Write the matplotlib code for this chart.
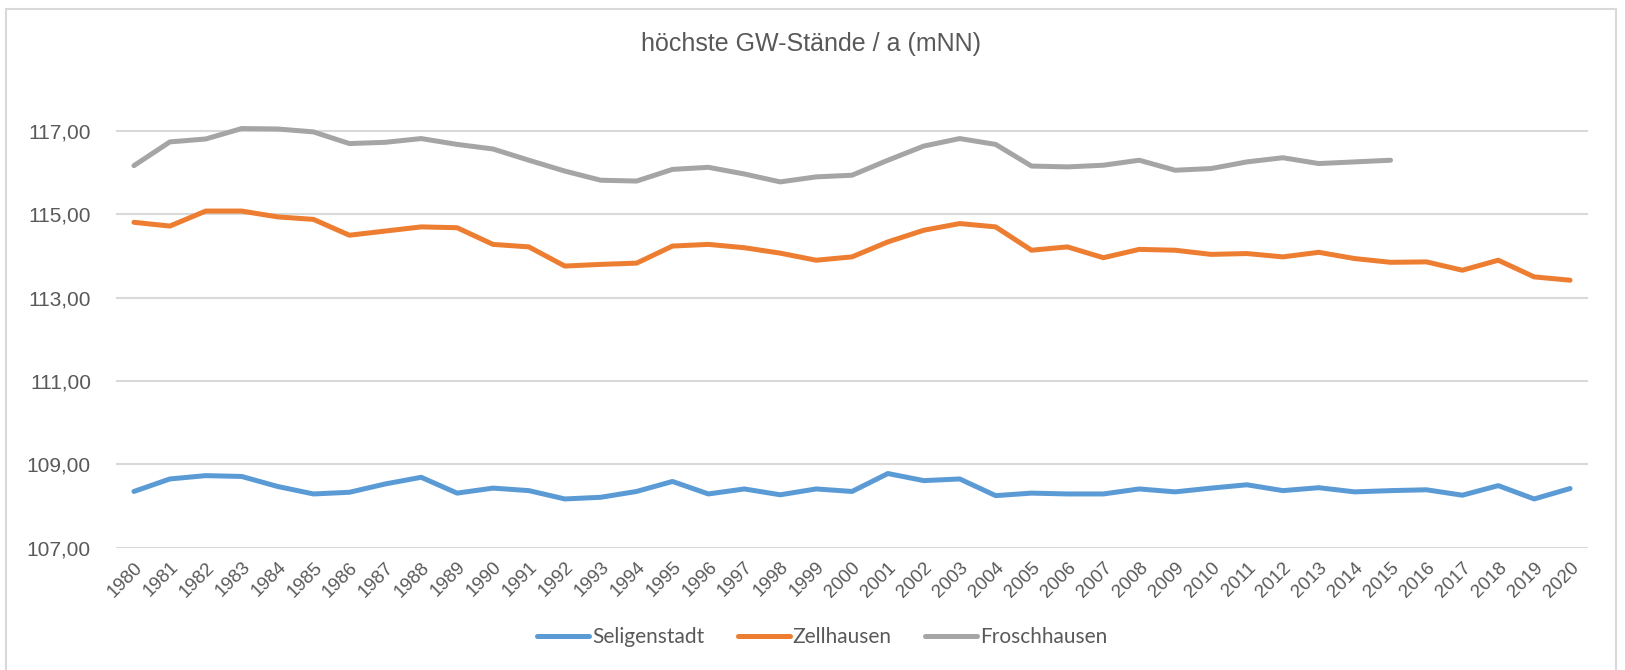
import matplotlib.pyplot as plt
from matplotlib.patches import Rectangle

# yearly maximum groundwater levels (mNN)
years = list(range(1980, 2021))

seligenstadt = [108.35, 108.65, 108.73, 108.71, 108.47, 108.29, 108.33, 108.53, 108.69, 108.31,
                108.43, 108.37, 108.17, 108.21, 108.35, 108.59, 108.29, 108.41, 108.27, 108.41,
                108.35, 108.78, 108.61, 108.65, 108.25, 108.31, 108.29, 108.29, 108.41, 108.34,
                108.43, 108.51, 108.37, 108.44, 108.34, 108.37, 108.39, 108.26, 108.49, 108.17,
                108.42]

zellhausen = [114.81, 114.72, 115.08, 115.08, 114.94, 114.88, 114.50, 114.60, 114.70, 114.68,
              114.28, 114.22, 113.76, 113.80, 113.83, 114.24, 114.28, 114.20, 114.07, 113.90,
              113.98, 114.34, 114.62, 114.78, 114.70, 114.14, 114.22, 113.96, 114.16, 114.14,
              114.04, 114.06, 113.98, 114.09, 113.94, 113.85, 113.86, 113.66, 113.90, 113.50,
              113.42]

# Froschhausen has data until 2015 only
froschhausen_years = list(range(1980, 2016))
froschhausen = [116.17, 116.74, 116.81, 117.06, 117.05, 116.98, 116.70, 116.73, 116.82, 116.68,
                116.57, 116.30, 116.04, 115.82, 115.80, 116.08, 116.13, 115.97, 115.78, 115.90,
                115.94, 116.30, 116.64, 116.82, 116.68, 116.16, 116.14, 116.18, 116.30, 116.06,
                116.10, 116.26, 116.36, 116.22, 116.26, 116.30]

y_ticks = [107, 109, 111, 113, 115, 117]

txt = '#595959'
W, H = 1625, 670

fig = plt.figure(figsize=(W / 100, H / 100), dpi=100)
ax = fig.add_axes([116 / W, 1 - 547.7 / H, 1472 / W, (547.7 - 89.4) / H])

ax.plot(years, seligenstadt, color='#5B9BD5', lw=3.6, solid_capstyle='round', label='Seligenstadt')
ax.plot(years, zellhausen, color='#ED7D31', lw=3.6, solid_capstyle='round', label='Zellhausen')
ax.plot(froschhausen_years, froschhausen, color='#A5A5A5', lw=3.6, solid_capstyle='round',
        label='Froschhausen')

ax.set_xlim(1979.5, 2020.5)
ax.set_ylim(107, 118)
ax.set_yticks(y_ticks)
ax.set_yticklabels([f'{v:.2f}'.replace('.', ',') for v in y_ticks],
                   fontsize=15, color=txt, family='Liberation Sans')
ax.set_xticks(years)
ax.set_xticklabels([str(y) for y in years], rotation=45, ha='right', va='top',
                   rotation_mode='anchor', fontsize=13.5, color=txt, family='Liberation Sans')
ax.tick_params(axis='y', length=0, pad=18)
ax.tick_params(axis='x', length=0, pad=8)
ax.grid(axis='y', color='#D9D9D9', lw=1.5)
ax.set_axisbelow(True)
for s in ax.spines.values():
    s.set_visible(False)

fig.text(811 / W, 1 - 44 / H, 'höchste GW-Stände / a (mNN)', ha='center', va='center',
         fontsize=18, color=txt, family='Liberation Sans')

leg = fig.legend(loc='center', bbox_to_anchor=(0.506, 1 - 637 / H), ncol=3, frameon=False,
                 prop={'family': 'Lato', 'size': 15}, handlelength=2.5, handletextpad=0.15,
                 columnspacing=1.6)
for t in leg.get_texts():
    t.set_color(txt)

# chart area border
fig.patches.append(Rectangle((6 / W, -0.05), 1610 / W, 1.05 - 9 / H, transform=fig.transFigure,
                             fill=False, edgecolor='#D9D9D9', lw=1.5))

fig.savefig('out.png', dpi=100, facecolor='white')
